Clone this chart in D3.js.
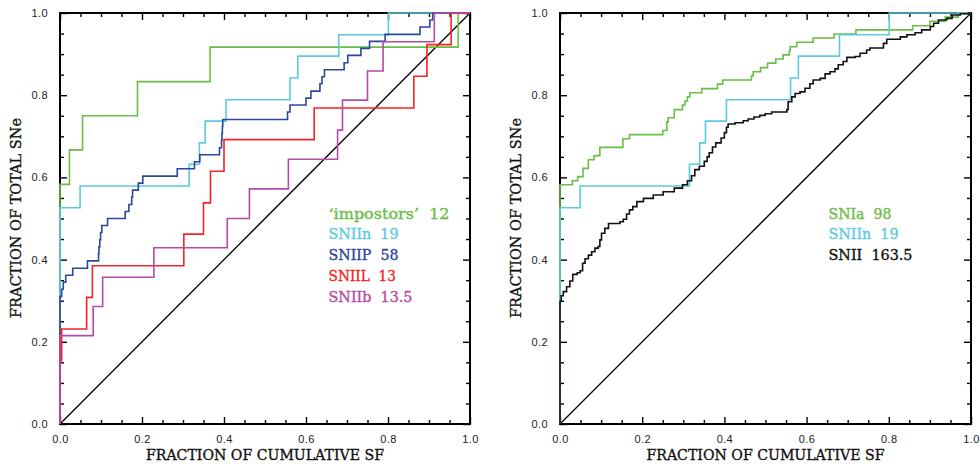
<!DOCTYPE html>
<html>
<head>
<meta charset="utf-8">
<script src="https://cdn.jsdelivr.net/npm/d3@7"></script>
<style>
html,body{margin:0;padding:0;background:#fff;}
svg{display:block;}
</style>
</head>
<body>
<svg id="chart" width="980" height="464"></svg>
<script>
// ---------- data ----------
const majorTicks = [0, 0.2, 0.4, 0.6, 0.8, 1.0];
const tickLabels = ["0.0", "0.2", "0.4", "0.6", "0.8", "1.0"];
const minorTicks = [0.05,0.1,0.15,0.25,0.3,0.35,0.45,0.5,0.55,0.65,0.7,0.75,0.85,0.9,0.95];
const xTitle = "FRACTION OF CUMULATIVE SF";
const yTitle = "FRACTION OF TOTAL SNe";

// left panel
const impostorsX = [0, 0.023, 0.055, 0.189, 0.366, 0.971];
const impostorsY = [0.583, 0.667, 0.750, 0.833, 0.917, 1.0];

const sniinX = [0, 0.049, 0.315, 0.340, 0.354, 0.405, 0.561, 0.580, 0.680, 0.801];
const sniinY = [0.526, 0.579, 0.632, 0.684, 0.737, 0.789, 0.842, 0.895, 0.947, 1.0];

const sniipX = [0, 0.004, 0.008, 0.014, 0.031, 0.067, 0.094, 0.095, 0.097, 0.099, 0.102, 0.116,
  0.159, 0.168, 0.175, 0.177, 0.191, 0.202, 0.286, 0.328, 0.341, 0.389, 0.394, 0.395, 0.396, 0.397,
  0.555, 0.561, 0.600, 0.612, 0.634, 0.639, 0.645, 0.693, 0.702, 0.734, 0.755, 0.793, 0.878, 0.902, 0.909];
const sniipY = [0.310, 0.328, 0.345, 0.362, 0.379, 0.397, 0.414, 0.431, 0.448, 0.466, 0.483, 0.500,
  0.517, 0.534, 0.552, 0.569, 0.586, 0.603, 0.621, 0.638, 0.655, 0.672, 0.690, 0.707, 0.724, 0.741,
  0.759, 0.776, 0.793, 0.810, 0.828, 0.845, 0.862, 0.879, 0.897, 0.914, 0.931, 0.948, 0.966, 0.983, 1.0];

const sniilX = [0, 0.004, 0.065, 0.079, 0.302, 0.350, 0.367, 0.400, 0.620, 0.863, 0.895, 0.954];
const sniilY = [0.154, 0.231, 0.308, 0.385, 0.462, 0.538, 0.615, 0.692, 0.769, 0.846, 0.923, 1.0];

const sniibX = [0, 0.081, 0.104, 0.229, 0.408, 0.462, 0.557, 0.677, 0.689, 0.750, 0.788, 0.913];
const sniibY = [0.215, 0.286, 0.357, 0.429, 0.500, 0.572, 0.644, 0.715, 0.788, 0.859, 0.930, 1.0];

// right panel
const sniaX = [0, 0.030, 0.043, 0.056, 0.069, 0.083, 0.097, 0.153, 0.169, 0.250, 0.260, 0.263, 0.278,
  0.298, 0.304, 0.310, 0.316, 0.345, 0.383, 0.396, 0.466, 0.470, 0.488, 0.505, 0.525, 0.543,
  0.558, 0.560, 0.576, 0.616, 0.667, 0.720, 0.858, 0.900, 0.937, 0.969];
const sniaY = [0.582, 0.592, 0.602, 0.622, 0.643, 0.653, 0.673, 0.694, 0.704, 0.714, 0.735, 0.745, 0.765,
  0.776, 0.786, 0.796, 0.806, 0.816, 0.827, 0.837, 0.847, 0.857, 0.867, 0.878, 0.888, 0.898,
  0.908, 0.918, 0.929, 0.939, 0.949, 0.959, 0.969, 0.980, 0.990, 1.0];

const sniiX = [0, 0.003, 0.008, 0.016, 0.024, 0.031, 0.042, 0.049, 0.055, 0.061, 0.069, 0.077, 0.085,
  0.093, 0.097, 0.101, 0.109, 0.118, 0.146, 0.154, 0.162, 0.169, 0.177, 0.187, 0.203, 0.227, 0.251,
  0.278, 0.298, 0.310, 0.320, 0.328, 0.339, 0.351, 0.358, 0.363, 0.371, 0.379, 0.392, 0.400, 0.405,
  0.409, 0.426, 0.446, 0.458, 0.472, 0.486, 0.499, 0.515, 0.552, 0.555, 0.564, 0.572, 0.584, 0.596,
  0.608, 0.616, 0.633, 0.645, 0.657, 0.669, 0.677, 0.689, 0.698, 0.718, 0.730, 0.746, 0.754, 0.787,
  0.795, 0.828, 0.844, 0.864, 0.880, 0.901, 0.909, 0.921, 0.941, 0.954, 0.974, 0.994];
const sniiY = [0.298, 0.312, 0.322, 0.334, 0.348, 0.364, 0.368, 0.373, 0.391, 0.402, 0.411, 0.419, 0.428,
  0.432, 0.448, 0.464, 0.476, 0.488, 0.492, 0.498, 0.511, 0.521, 0.529, 0.541, 0.549, 0.557, 0.565,
  0.574, 0.582, 0.592, 0.604, 0.619, 0.627, 0.639, 0.650, 0.660, 0.674, 0.684, 0.696, 0.709, 0.722,
  0.730, 0.733, 0.738, 0.742, 0.747, 0.751, 0.755, 0.759, 0.765, 0.784, 0.796, 0.804, 0.808, 0.817,
  0.828, 0.837, 0.841, 0.852, 0.857, 0.864, 0.874, 0.882, 0.892, 0.894, 0.902, 0.910, 0.915, 0.926,
  0.936, 0.942, 0.947, 0.952, 0.959, 0.967, 0.975, 0.983, 0.987, 0.995, 0.998, 1.0];

const leftLegend = ["\u2018impostors\u2019  12", "SNIIn  19", "SNIIP  58", "SNIIL  13", "SNIIb  13.5"];
const rightLegend = ["SNIa  98", "SNIIn  19", "SNII  163.5"];

// ---------- styles ----------
const COL = {green:"#69be45", cyan:"#5ccade", blue:"#2c479e", red:"#f52323", magenta:"#b64aa6", black:"#111"};
const SERIF = "'DejaVu Serif', 'Liberation Serif', serif";

const svg = d3.select("#chart");
const yScale = d3.scaleLinear().domain([0,1]).range([424, 13]);

function zip(xs, ys){ return xs.map((x,i)=>[x, ys[i]]); }

function panel(x0, x1, series, legend, legendX, legendWidths){
  const x = d3.scaleLinear().domain([0,1]).range([x0, x1]);
  const g = svg.append("g");

  const fmt = d=>tickLabels[majorTicks.indexOf(d)];
  g.append("g").attr("transform",`translate(0,${yScale(0)})`)
    .call(d3.axisBottom(x).tickValues(majorTicks).tickSize(-7).tickPadding(11).tickFormat(fmt));
  g.append("g").attr("transform",`translate(0,${yScale(0)})`)
    .call(d3.axisBottom(x).tickValues(minorTicks).tickSize(-4).tickFormat(""));
  g.append("g").attr("transform",`translate(0,${yScale(1)})`)
    .call(d3.axisTop(x).tickValues(majorTicks).tickSize(-7).tickFormat(""));
  g.append("g").attr("transform",`translate(0,${yScale(1)})`)
    .call(d3.axisTop(x).tickValues(minorTicks).tickSize(-4).tickFormat(""));
  g.append("g").attr("transform",`translate(${x0},0)`)
    .call(d3.axisLeft(yScale).tickValues(majorTicks).tickSize(-7).tickPadding(12).tickFormat(fmt));
  g.append("g").attr("transform",`translate(${x0},0)`)
    .call(d3.axisLeft(yScale).tickValues(minorTicks).tickSize(-4).tickFormat(""));
  g.append("g").attr("transform",`translate(${x1},0)`)
    .call(d3.axisRight(yScale).tickValues(majorTicks).tickSize(-7).tickFormat(""));
  g.append("g").attr("transform",`translate(${x1},0)`)
    .call(d3.axisRight(yScale).tickValues(minorTicks).tickSize(-4).tickFormat(""));
  g.selectAll(".domain").remove();
  g.selectAll(".tick line").attr("stroke","#000").attr("stroke-width",1.4);
  g.selectAll(".tick text").attr("font-family","'Liberation Sans', Arial, sans-serif")
    .attr("font-size",11).attr("fill","#222").attr("letter-spacing","0.4px");

  // frame
  g.append("rect").attr("x",x0).attr("y",yScale(1)).attr("width",x1-x0).attr("height",yScale(0)-yScale(1))
    .attr("fill","none").attr("stroke","#000").attr("stroke-width",2);

  // diagonal
  g.append("line").attr("x1",x(0)).attr("y1",yScale(0)).attr("x2",x(1)).attr("y2",yScale(1))
    .attr("stroke","#000").attr("stroke-width",1.3);

  const line = d3.line().x(d=>x(d[0])).y(d=>yScale(d[1])).curve(d3.curveStepAfter);
  series.forEach(s=>{
    const pts = [[0,0]].concat(zip(s.xs, s.ys)).concat([[1,1]]);
    g.append("path").attr("d", line(pts)).attr("fill","none")
      .attr("stroke", s.color).attr("stroke-width",1.6).attr("stroke-linejoin","miter");
  });

  // legend
  legend.forEach((l,i)=>{
    g.append("text").attr("x",legendX).attr("y",218.5 + i*20.75)
      .attr("font-family",SERIF).attr("font-size",14.5)
      .attr("fill",l.color).attr("stroke",l.color).attr("stroke-width",0.35)
      .attr("textLength",legendWidths[i]).attr("lengthAdjust","spacingAndGlyphs")
      .attr("xml:space","preserve").style("white-space","pre")
      .text(l.text);
  });

  // axis titles
  g.append("text").attr("x",(x0+x1)/2).attr("y",460).attr("text-anchor","middle")
    .attr("font-family",SERIF).attr("font-size",14.5).attr("fill","#111")
    .attr("stroke","#111").attr("stroke-width",0.35)
    .attr("textLength",238).attr("lengthAdjust","spacingAndGlyphs").text(xTitle);
  g.append("text").attr("transform",`translate(${x0-39},218) rotate(-90)`).attr("text-anchor","middle")
    .attr("font-family",SERIF).attr("font-size",14.5).attr("fill","#111")
    .attr("stroke","#111").attr("stroke-width",0.35)
    .attr("textLength",200).attr("lengthAdjust","spacingAndGlyphs").text(yTitle);
}

panel(60, 470,
  [{xs:impostorsX, ys:impostorsY, color:COL.green},
   {xs:sniinX, ys:sniinY, color:COL.cyan},
   {xs:sniipX, ys:sniipY, color:COL.blue},
   {xs:sniilX, ys:sniilY, color:COL.red},
   {xs:sniibX, ys:sniibY, color:COL.magenta}],
  [{text:leftLegend[0], color:COL.green},{text:leftLegend[1], color:COL.cyan},{text:leftLegend[2], color:COL.blue},
   {text:leftLegend[3], color:COL.red},{text:leftLegend[4], color:COL.magenta}],
  328.5, [121, 70, 70, 67.5, 84]);

panel(560, 971,
  [{xs:sniaX, ys:sniaY, color:COL.green},
   {xs:sniinX, ys:sniinY, color:COL.cyan},
   {xs:sniiX, ys:sniiY, color:COL.black}],
  [{text:rightLegend[0], color:COL.green},{text:rightLegend[1], color:COL.cyan},{text:rightLegend[2], color:COL.black}],
  828.5, [63, 70, 84]);
</script>
</body>
</html>
